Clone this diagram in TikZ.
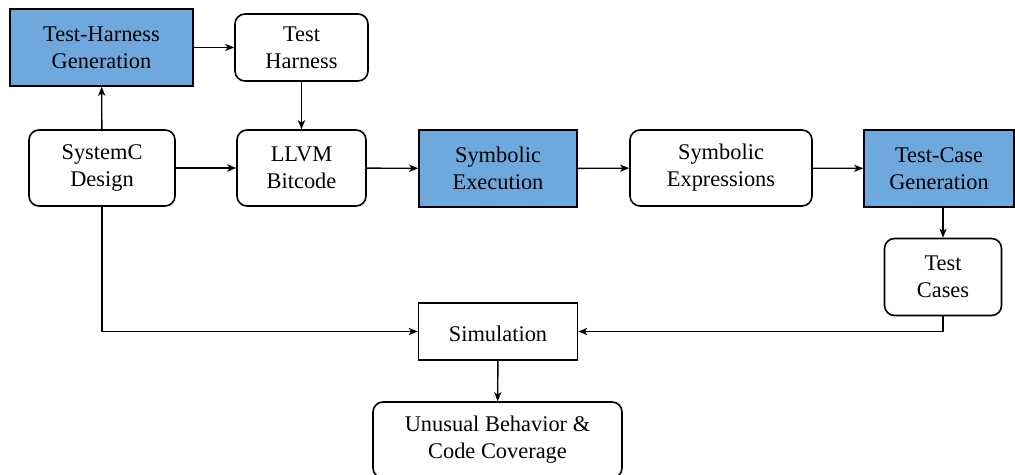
\documentclass[tikz,border=0pt]{standalone}
\usepackage{fontspec}
\setmainfont{Liberation Serif}
\usetikzlibrary{arrows.meta,positioning}
\definecolor{stageblue}{RGB}{111,168,220}
\begin{document}
\begin{tikzpicture}[x=0.5pt,y=-0.5pt,
  every node/.style={font=\fontsize{11.2}{13.4}\selectfont, align=center, inner sep=0pt,
    execute at begin node={\rule{0pt}{10.5pt}}},
  stage/.style={draw, line width=0.8pt, fill=stageblue},
  artifact/.style={draw, line width=0.8pt, rounded corners=5pt, fill=white},
  plainbox/.style={draw, line width=0.8pt, fill=white},
  flow/.style={line width=0.7pt, -{Stealth[length=4.5pt,width=3.6pt,inset=1.2pt]}}]
  \useasboundingbox (0,0) rectangle (1015,475);

  % processing stages (filled) and artifacts (rounded)
  \node[stage, minimum width=91.5pt, minimum height=38.5pt] (thg) at (101.5,47.5) {Test-Harness\\Generation};
  \node[artifact, minimum width=66.5pt, minimum height=33.5pt] (th) at (301.5,47.5) {Test\\Harness};
  \node[artifact, minimum width=73pt, minimum height=38pt] (sc) at (102,168) {SystemC\\Design};
  \node[artifact, minimum width=64.5pt, minimum height=38pt] (llvm) at (301.5,168) {LLVM\\Bitcode};
  \node[stage, minimum width=79pt, minimum height=38.5pt] (se) at (498,168.5) {Symbolic\\Execution};
  \node[artifact, minimum width=91pt, minimum height=38pt] (sx) at (721,168) {Symbolic\\Expressions};
  \node[stage, minimum width=75pt, minimum height=38.5pt] (tcg) at (939,168.5) {Test-Case\\Generation};
  \node[artifact, minimum width=58.5pt, minimum height=38.5pt] (tc) at (943,277) {Test\\Cases};
  \node[plainbox, minimum width=79.5pt, minimum height=28.5pt] (sim) at (498,331.5) {Simulation};
  \node[artifact, minimum width=124.5pt, minimum height=38pt] (ub) at (497.5,440) {Unusual Behavior \&\\Code Coverage};

  % connectors
  \draw[flow] (thg) -- (th);
  \draw[flow] (sc) -- (thg);
  \draw[flow] (th) -- (llvm);
  \draw[flow] (sc) -- (llvm);
  \draw[flow] (llvm) -- (se);
  \draw[flow] (se) -- (sx);
  \draw[flow] (sx) -- (tcg);
  \draw[flow] (tcg.south -| tc.north) -- (tc.north);
  \draw[flow] (tc.south) |- (sim.east);
  \draw[flow] (sc.south) |- (sim.west);
  \draw[flow] (sim) -- (ub);
\end{tikzpicture}
\end{document}
